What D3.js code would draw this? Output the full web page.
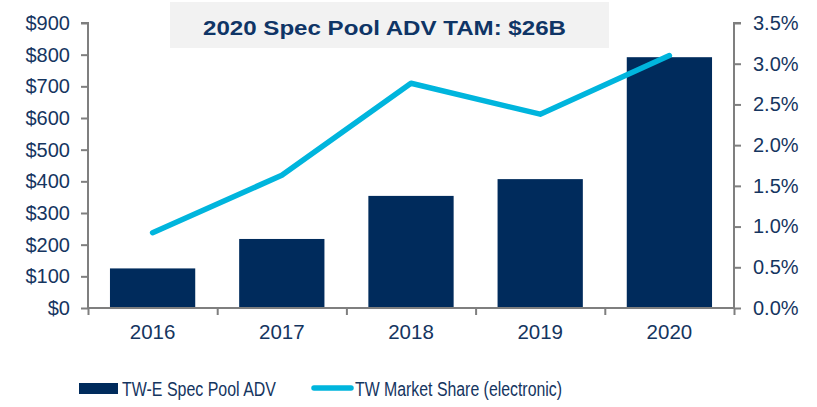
<!DOCTYPE html>
<html>
<head>
<meta charset="utf-8">
<script src="https://cdn.jsdelivr.net/npm/d3@7.9.0/dist/d3.min.js"></script>
<style>
  body { margin: 0; background: #fff; }
  svg { font-family: Arial, "Liberation Sans", sans-serif; }
</style>
</head>
<body>
<svg id="chart" width="817" height="407"></svg>
<script>
// data
const years = ['2016', '2017', '2018', '2019', '2020'];
const advValues = [125, 218, 354, 407, 792];          // $MM, left axis
const shareValues = [0.925, 1.63, 2.76, 2.38, 3.10];  // %, right axis
const leftTicks = [0, 100, 200, 300, 400, 500, 600, 700, 800, 900];
const rightTicks = [0, 0.5, 1.0, 1.5, 2.0, 2.5, 3.0, 3.5];

const navy = '#002b5c';
const cyan = '#00b5dd';
const textColor = '#15355f';
const axisGray = '#7f7f7f';

const svg = d3.select('#chart');

const x = d3.scaleBand().domain(years).range([88, 734]).paddingInner(0.34).paddingOuter(0.17);
const xEdge = d3.scaleLinear().domain([0, years.length]).range([88, 734]);
const yLeft = d3.scaleLinear().domain([0, 900]).range([308, 23]);
const yRight = d3.scaleLinear().domain([0, 3.5]).range([308, 23]);

// title box
svg.append('rect')
    .attr('x', 170).attr('y', 2)
    .attr('width', 439).attr('height', 46)
    .attr('fill', '#f2f2f2');
svg.append('text')
    .attr('x', 203).attr('y', 35)
    .attr('font-size', 20.5).attr('font-weight', 'bold')
    .attr('fill', '#0f3566')
    .attr('textLength', 363).attr('lengthAdjust', 'spacingAndGlyphs')
    .text('2020 Spec Pool ADV TAM: $26B');

// bars
svg.selectAll('rect.bar')
    .data(advValues)
    .join('rect')
    .attr('class', 'bar')
    .attr('x', (d, i) => x(years[i]))
    .attr('width', x.bandwidth())
    .attr('y', (d) => yLeft(d))
    .attr('height', (d) => yLeft(0) - yLeft(d))
    .attr('fill', navy);

// axes
const leftAxis = svg.append('g')
    .attr('transform', 'translate(88,0)')
    .call(d3.axisLeft(yLeft).tickValues(leftTicks).tickSize(7).tickPadding(11).tickFormat((d) => '$' + d));

const rightAxis = svg.append('g')
    .attr('transform', 'translate(734,0)')
    .call(d3.axisRight(yRight).tickValues(rightTicks).tickSize(7).tickPadding(12).tickFormat((d) => d.toFixed(1) + '%'));

const bottomAxis = svg.append('g')
    .attr('transform', 'translate(0,308)')
    .call(d3.axisBottom(xEdge).tickValues(d3.range(years.length + 1)).tickSize(7).tickFormat(''));

// year labels centred on categories
svg.selectAll('text.year')
    .data(years)
    .join('text')
    .attr('class', 'year')
    .attr('x', (d) => x(d) + x.bandwidth() / 2)
    .attr('y', 339)
    .attr('text-anchor', 'middle')
    .attr('font-size', 20.5)
    .attr('fill', textColor)
    .text((d) => d);

[leftAxis, rightAxis, bottomAxis].forEach((g) => {
    g.select('.domain').attr('stroke', axisGray).attr('stroke-width', 2);
    g.selectAll('.tick line').attr('stroke', axisGray).attr('stroke-width', 2);
    g.selectAll('.tick text')
        .attr('font-size', 20)
        .attr('fill', textColor)
        .attr('font-family', 'Arial, "Liberation Sans", sans-serif');
});
// domains without the outer tick stubs
leftAxis.select('.domain').attr('d', 'M-7,23H0V308');
rightAxis.select('.domain').attr('d', 'M7,23H0V308');
bottomAxis.select('.domain').attr('d', 'M88,0H734');

// market share line
const line = d3.line()
    .x((d, i) => x(years[i]) + x.bandwidth() / 2)
    .y((d) => yRight(d));

svg.append('path')
    .datum(shareValues)
    .attr('d', line)
    .attr('fill', 'none')
    .attr('stroke', cyan)
    .attr('stroke-width', 5.5)
    .attr('stroke-linecap', 'round')
    .attr('stroke-linejoin', 'round');

// legend
const legend = svg.append('g');
legend.append('rect')
    .attr('x', 79).attr('y', 383)
    .attr('width', 39).attr('height', 11)
    .attr('fill', navy);
legend.append('text')
    .attr('x', 122).attr('y', 396)
    .attr('font-size', 20)
    .attr('fill', textColor)
    .attr('textLength', 154).attr('lengthAdjust', 'spacingAndGlyphs')
    .text('TW-E Spec Pool ADV');
legend.append('line')
    .attr('x1', 314).attr('x2', 351)
    .attr('y1', 388).attr('y2', 388)
    .attr('stroke', cyan)
    .attr('stroke-width', 5.5)
    .attr('stroke-linecap', 'round');
legend.append('text')
    .attr('x', 355).attr('y', 396)
    .attr('font-size', 20)
    .attr('fill', textColor)
    .attr('textLength', 207).attr('lengthAdjust', 'spacingAndGlyphs')
    .text('TW Market Share (electronic)');
</script>
</body>
</html>
